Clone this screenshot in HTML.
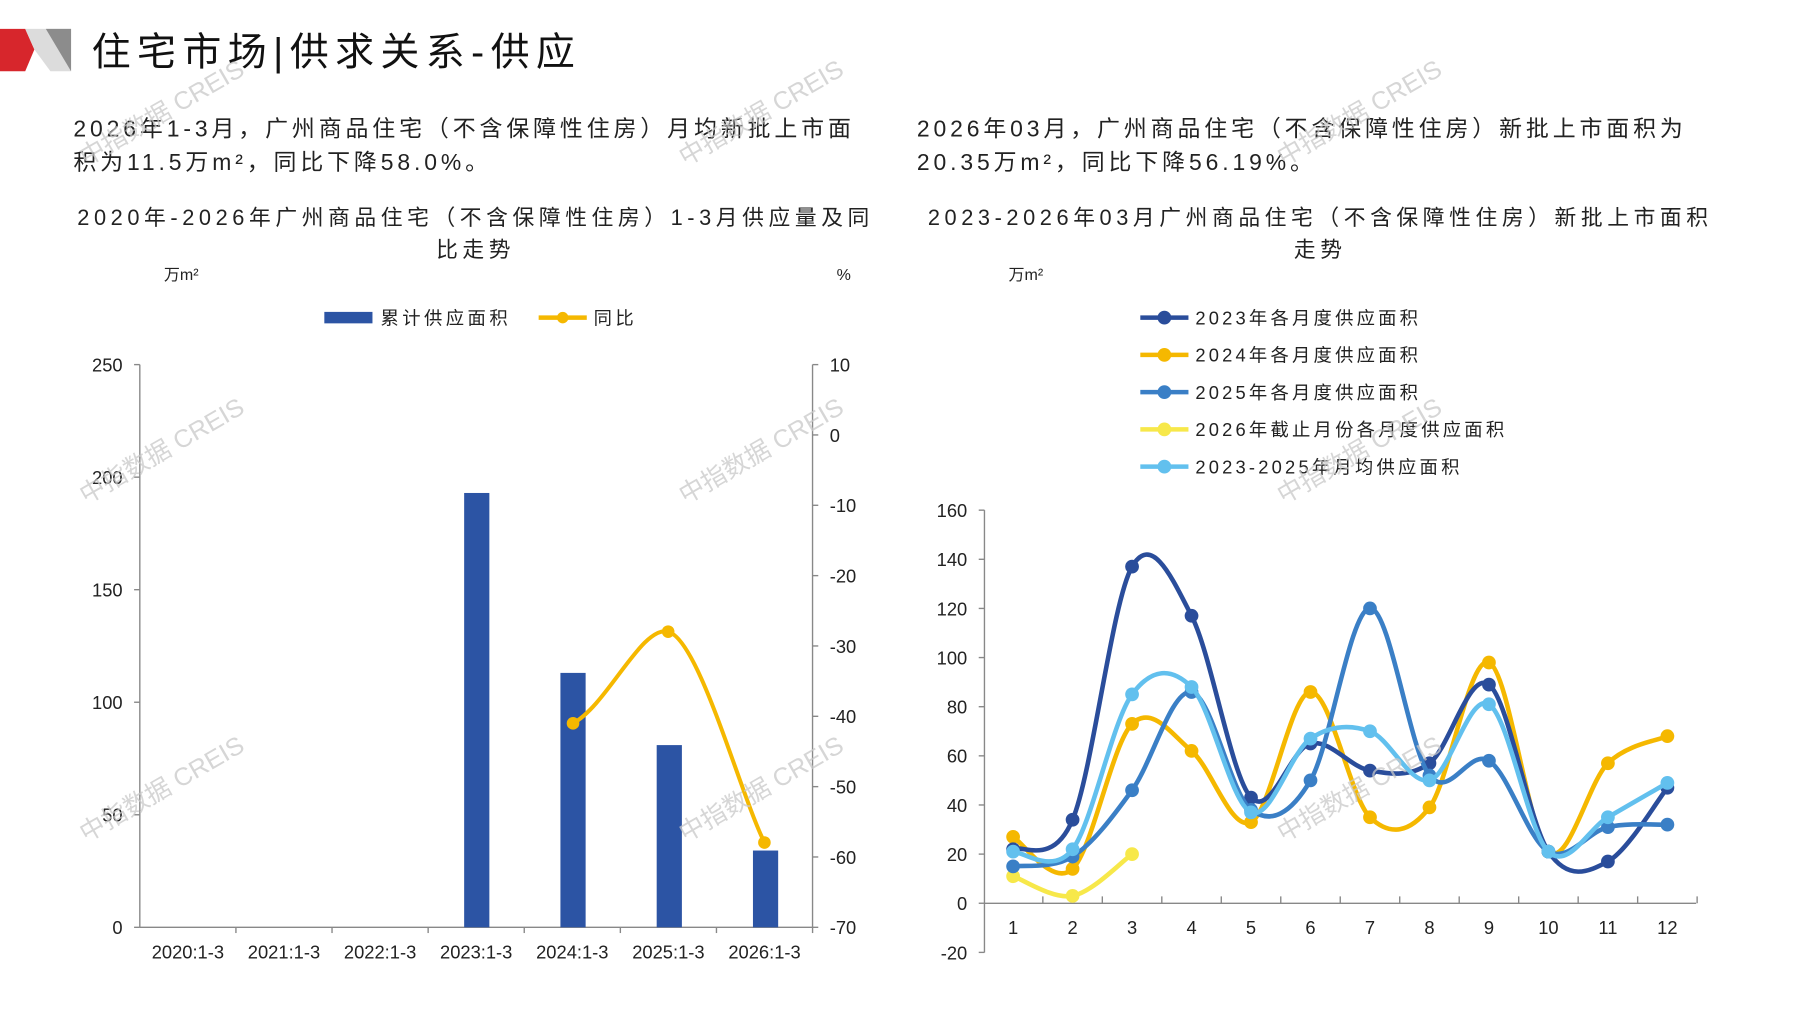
<!DOCTYPE html>
<html><head><meta charset="utf-8"><style>
html,body{margin:0;padding:0;background:#fff}
svg{display:block}
text{font-family:"Liberation Sans","Noto Sans CJK SC",sans-serif}
</style></head><body>
<svg id="s" width="1797" height="1010" viewBox="0 0 1568 881" xmlns="http://www.w3.org/2000/svg">
<polygon points="0,25 22,25 30,43 22,62 0,62" fill="#d7262c"/>
<polygon points="22,25 62,25 62,62 44,62 30,43" fill="#dcdcdc"/>
<polygon points="40,25 62,25 62,62" fill="#8c8c8c"/>
<text x="80" y="57" font-size="34" fill="#111" letter-spacing="5.6">住宅市场|供求关系-供应</text>
<g font-size="20" fill="#222">
<text x="64" y="119" letter-spacing="3.4">2026年1-3月，广州商品住宅（不含保障性住房）月均新批上市面</text>
<text x="64" y="148" letter-spacing="3.4">积为11.5万m²，同比下降58.0%。</text>
<text x="800" y="119" letter-spacing="3.4">2026年03月，广州商品住宅（不含保障性住房）新批上市面积为</text>
<text x="800" y="148" letter-spacing="3.4">20.35万m²，同比下降56.19%。</text>
</g>
<g font-size="19" fill="#222" letter-spacing="4" text-anchor="middle">
<text x="415" y="196">2020年-2026年广州商品住宅（不含保障性住房）1-3月供应量及同</text>
<text x="415" y="224">比走势</text>
<text x="1152" y="196">2023-2026年03月广州商品住宅（不含保障性住房）新批上市面积</text>
<text x="1152" y="224">走势</text>
</g>
<g font-size="14" fill="#222">
<text x="143" y="244">万m²</text><text x="730" y="244">%</text><text x="880" y="244">万m²</text>
</g>
<rect x="283" y="272" width="42" height="10" fill="#2c54a4"/>
<text x="332" y="283" font-size="16" fill="#222" letter-spacing="3">累计供应面积</text>
<line x1="470" y1="277" x2="512" y2="277" stroke="#f5b800" stroke-width="4"/><circle cx="491" cy="277" r="5" fill="#f5b800"/>
<text x="518" y="283" font-size="16" fill="#222" letter-spacing="3">同比</text>
<g stroke="#888" stroke-width="1.2" fill="none">
<line x1="122" y1="318" x2="122" y2="809"/><line x1="709" y1="318" x2="709" y2="809"/>
<line x1="122" y1="809" x2="709" y2="809"/>
</g>
<g id="lt" stroke="#888" stroke-width="1.2"></g>
<g font-size="16" fill="#222" id="llab"></g>
<g fill="#2c54a4">
<rect x="405" y="430" width="22" height="379"/>
<rect x="489" y="587" width="22" height="222"/>
<rect x="573" y="650" width="22" height="159"/>
<rect x="657" y="742" width="22" height="67"/>
</g>
<path d="M500,631 C530,615 560,545 583,551 C610,558 645,690 667,735" stroke="#f5b800" stroke-width="3.5" fill="none"/>
<circle cx="500" cy="631" r="5.5" fill="#f5b800"/><circle cx="583" cy="551" r="5.5" fill="#f5b800"/><circle cx="667" cy="735" r="5.5" fill="#f5b800"/>
<g stroke="#888" stroke-width="1.2"><line x1="859" y1="445" x2="859" y2="831"/><line x1="859" y1="788" x2="1480" y2="788"/></g>
<g id="rt" stroke="#888" stroke-width="1.2"></g>
<g id="rl" font-size="16" fill="#222"></g>
<g id="series"></g>
<g id="leg" font-size="16" fill="#222" letter-spacing="2.8"></g>
<g font-size="22" fill="#c8c8c8" opacity="0.75">
<text transform="translate(75,440) rotate(-30)">中指数据 CREIS</text>
<text transform="translate(75,735) rotate(-30)">中指数据 CREIS</text>
<text transform="translate(75,145) rotate(-30)">中指数据 CREIS</text>
<text transform="translate(598,440) rotate(-30)">中指数据 CREIS</text>
<text transform="translate(598,735) rotate(-30)">中指数据 CREIS</text>
<text transform="translate(598,145) rotate(-30)">中指数据 CREIS</text>
<text transform="translate(1120,440) rotate(-30)">中指数据 CREIS</text>
<text transform="translate(1120,735) rotate(-30)">中指数据 CREIS</text>
<text transform="translate(1120,145) rotate(-30)">中指数据 CREIS</text>
</g>
</svg>
<script>
var NS="http://www.w3.org/2000/svg";
function el(p,t,a,txt){var e=document.createElementNS(NS,t);for(var k in a)e.setAttribute(k,a[k]);if(txt!=null)e.textContent=txt;document.getElementById(p).appendChild(e);return e;}
for(var i=0;i<=5;i++){var y=809-i*98.2;el('lt','line',{x1:117,y1:y,x2:122,y2:y});el('llab','text',{x:107,y:y+6,'text-anchor':'end'},i*50);}
for(var i=0;i<=8;i++){var y=318+i*61.375;el('lt','line',{x1:709,y1:y,x2:714,y2:y});el('llab','text',{x:724,y:y+6},10-i*10);}
var cats=["2020:1-3","2021:1-3","2022:1-3","2023:1-3","2024:1-3","2025:1-3","2026:1-3"];
for(var i=0;i<7;i++){var x=122+83.86*(i+0.5);el('llab','text',{x:x,y:836,'text-anchor':'middle'},cats[i]);el('lt','line',{x1:122+83.86*(i+1),y1:809,x2:122+83.86*(i+1),y2:814});}
function Y(v){return 788-v*42.875/20;}
for(var v=-20;v<=160;v+=20){var y=Y(v);el('rt','line',{x1:854,y1:y,x2:859,y2:y});el('rl','text',{x:844,y:y+6,'text-anchor':'end'},v);}
function X(m){return 884+(m-1)*51.9;}
for(var m=1;m<=12;m++){el('rl','text',{x:X(m),y:815,'text-anchor':'middle'},m);el('rt','line',{x1:X(m)+25.95,y1:788,x2:X(m)+25.95,y2:782});}
var S=[
["#2a4d9b",[22,34,137,117,43,65,54,57,89,21,17,47],"2023年各月度供应面积"],
["#f5b800",[27,14,73,62,33,86,35,39,98,21,57,68],"2024年各月度供应面积"],
["#3a7fc6",[15,19,46,86,38,50,120,52,58,21,31,32],"2025年各月度供应面积"],
["#f7e84a",[11,3,20],"2026年截止月份各月度供应面积"],
["#62c0ee",[21,22,85,88,37,67,70,50,81,21,35,49],"2023-2025年月均供应面积"]];
function path(d){var p=d.map(function(v,i){return[X(i+1),Y(v)]});var s="M"+p[0];for(var i=0;i<p.length-1;i++){var a=p[i-1]||p[i],b=p[i],c=p[i+1],e=p[i+2]||c;var k=1/6;s+=" C"+(b[0]+(c[0]-a[0])*k)+","+(b[1]+(c[1]-a[1])*k)+" "+(c[0]-(e[0]-b[0])*k)+","+(c[1]-(e[1]-b[1])*k)+" "+c[0]+","+c[1];}return s;}
[3,1,0,2,4].forEach(function(i){var s=S[i];el('series','path',{d:path(s[1]),stroke:s[0],'stroke-width':4,fill:'none'});s[1].forEach(function(v,j){el('series','circle',{cx:X(j+1),cy:Y(v),r:6,fill:s[0]});});});
S.forEach(function(s,i){var y=277+i*32.5;el('leg','line',{x1:995,y1:y,x2:1037,y2:y,stroke:s[0],'stroke-width':4});el('leg','circle',{cx:1016,cy:y,r:6,fill:s[0]});el('leg','text',{x:1043,y:y+6},s[2]);});
</script>
</body></html>
